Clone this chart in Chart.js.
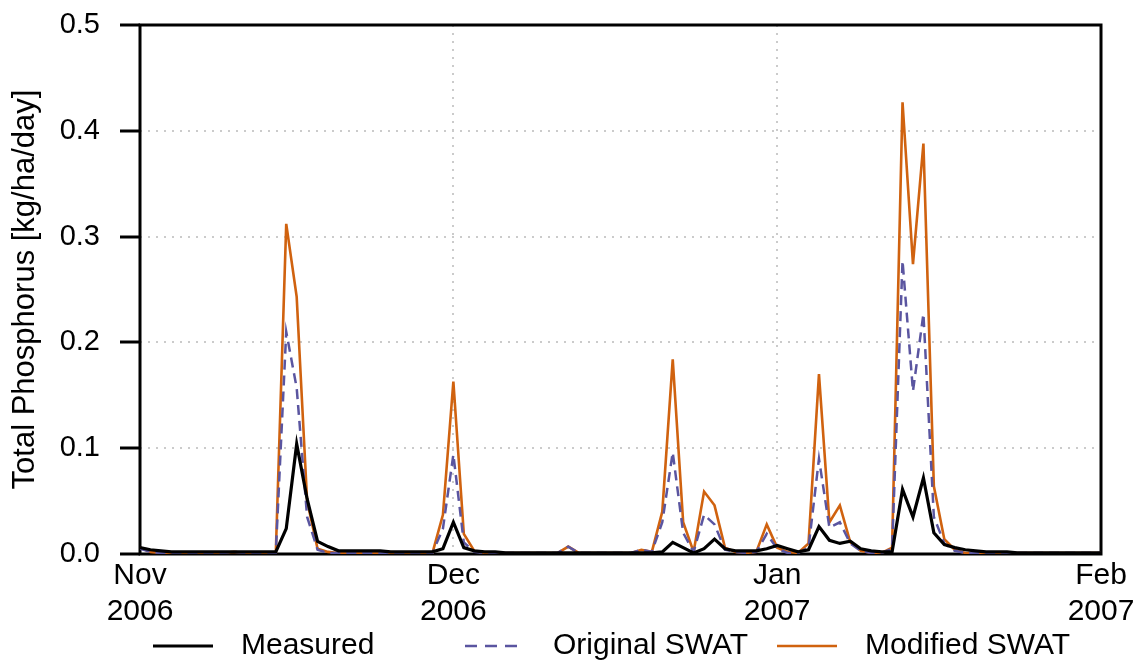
<!DOCTYPE html>
<html>
<head>
<meta charset="utf-8">
<style>
  html, body { margin: 0; padding: 0; background: #fff; }
  canvas { display: block; }
</style>
<script src="https://cdn.jsdelivr.net/npm/chart.js@4"></script>
</head>
<body>
<canvas id="tpChart" width="1139" height="661"></canvas>
<script>
// daily total phosphorus load, 1 Nov 2006 (day 0) to 1 Feb 2007 (day 92)
const measured = [
  0.006, 0.004, 0.003, 0.002, 0.002, 0.002, 0.002, 0.002, 0.002, 0.002,
  0.002, 0.002, 0.002, 0.002, 0.024, 0.104, 0.052, 0.012, 0.007, 0.003,
  0.003, 0.003, 0.003, 0.003, 0.002, 0.002, 0.002, 0.002, 0.002, 0.005,
  0.030, 0.006, 0.003, 0.002, 0.002, 0.001, 0.001, 0.001, 0.001, 0.001,
  0.001, 0.001, 0.001, 0.001, 0.001, 0.001, 0.001, 0.001, 0.001, 0.001,
  0.002, 0.011, 0.006, 0.001, 0.005, 0.014, 0.005, 0.003, 0.003, 0.003,
  0.005, 0.008, 0.005, 0.002, 0.004, 0.026, 0.013, 0.010, 0.012, 0.005,
  0.003, 0.002, 0.002, 0.061, 0.035, 0.072, 0.020, 0.009, 0.006, 0.004,
  0.003, 0.002, 0.002, 0.002, 0.001, 0.001, 0.001, 0.001, 0.001, 0.001,
  0.001, 0.001, 0.001
];
const originalSwat = [
  0.005, 0.002, 0.001, 0.001, 0.001, 0.001, 0.001, 0.001, 0.001, 0.002,
  0.001, 0.001, 0.001, 0.001, 0.210, 0.157, 0.035, 0.004, 0.001, 0.001,
  0.001, 0.001, 0.001, 0.001, 0.001, 0.001, 0.001, 0.001, 0.001, 0.024,
  0.094, 0.011, 0.002, 0.001, 0.001, 0.001, 0.001, 0.001, 0.001, 0.001,
  0.001, 0.007, 0.001, 0.001, 0.001, 0.001, 0.001, 0.001, 0.004, 0.002,
  0.030, 0.096, 0.020, 0.002, 0.037, 0.028, 0.004, 0.002, 0.001, 0.002,
  0.019, 0.005, 0.001, 0.001, 0.006, 0.090, 0.025, 0.030, 0.010, 0.003,
  0.001, 0.001, 0.005, 0.277, 0.154, 0.227, 0.035, 0.010, 0.003, 0.001,
  0.001, 0.001, 0.001, 0.001, 0.001, 0.001, 0.001, 0.001, 0.001, 0.001,
  0.001, 0.001, 0.001
];
const modifiedSwat = [
  0.006, 0.002, 0.001, 0.001, 0.001, 0.001, 0.001, 0.001, 0.001, 0.002,
  0.001, 0.001, 0.001, 0.001, 0.312, 0.243, 0.050, 0.005, 0.002, 0.001,
  0.001, 0.001, 0.001, 0.001, 0.001, 0.001, 0.001, 0.001, 0.001, 0.037,
  0.163, 0.019, 0.003, 0.001, 0.001, 0.001, 0.001, 0.001, 0.001, 0.001,
  0.001, 0.007, 0.001, 0.001, 0.001, 0.001, 0.001, 0.001, 0.004, 0.002,
  0.040, 0.184, 0.030, 0.002, 0.059, 0.046, 0.006, 0.002, 0.001, 0.002,
  0.028, 0.006, 0.002, 0.001, 0.010, 0.170, 0.030, 0.046, 0.011, 0.003,
  0.001, 0.001, 0.006, 0.427, 0.274, 0.388, 0.064, 0.014, 0.004, 0.001,
  0.001, 0.001, 0.001, 0.001, 0.001, 0.001, 0.001, 0.001, 0.001, 0.001,
  0.001, 0.001, 0.001
];

// month boundaries (days since 1 Nov 2006) and their labels
const monthDays = [0, 30, 61, 92];
const monthLabels = [['Nov', '2006'], ['Dec', '2006'], ['Jan', '2007'], ['Feb', '2007']];
const yTicks = [0, 0.1, 0.2, 0.3, 0.4, 0.5];

const FONT = 'Liberation Sans, Arial, sans-serif';

const toPoints = arr => arr.map((v, i) => ({ x: i, y: v }));

// black frame around the plot, drawn under the lines
const framePlugin = {
  id: 'frame',
  beforeDatasetsDraw(chart) {
    const { ctx, chartArea: a } = chart;
    ctx.save();
    ctx.strokeStyle = '#000';
    ctx.lineWidth = 3;
    ctx.strokeRect(a.left, a.top, a.right - a.left, a.bottom - a.top);
    ctx.restore();
  }
};

// legend row along the bottom, one column per series
const legendPlugin = {
  id: 'bottomLegend',
  afterDraw(chart) {
    const ctx = chart.ctx;
    const y = 646;
    const startX = 153;
    const colWidth = 312;
    ctx.save();
    ctx.font = '30px ' + FONT;
    ctx.textBaseline = 'middle';
    ctx.fillStyle = '#000';
    chart.data.datasets.forEach((ds, i) => {
      const x = startX + i * colWidth;
      ctx.beginPath();
      ctx.strokeStyle = ds.borderColor;
      ctx.lineWidth = ds.borderWidth;
      ctx.setLineDash(ds.borderDash ? [12, 8] : []);
      ctx.moveTo(x, y);
      ctx.lineTo(x + 60, y);
      ctx.stroke();
      ctx.setLineDash([]);
      ctx.fillText(ds.label, x + 88, y);
    });
    ctx.restore();
  }
};

new Chart(document.getElementById('tpChart'), {
  type: 'line',
  data: {
    datasets: [
      {
        label: 'Measured',
        data: toPoints(measured),
        borderColor: '#000000',
        borderWidth: 3.2,
        pointRadius: 0,
        tension: 0
      },
      {
        label: 'Original SWAT',
        data: toPoints(originalSwat),
        borderColor: '#5a55a0',
        borderWidth: 2.5,
        borderDash: [10, 6],
        pointRadius: 0,
        tension: 0
      },
      {
        label: 'Modified SWAT',
        data: toPoints(modifiedSwat),
        borderColor: '#d0620f',
        borderWidth: 2.6,
        pointRadius: 0,
        tension: 0
      }
    ]
  },
  options: {
    responsive: false,
    animation: false,
    layout: { padding: { left: 0, top: 25, right: 38, bottom: 0 } },
    plugins: {
      legend: { display: false },
      tooltip: { enabled: false }
    },
    scales: {
      x: {
        type: 'linear',
        min: 0,
        max: 92,
        afterBuildTicks: scale => {
          scale.ticks = monthDays.map(v => ({ value: v }));
        },
        afterFit: scale => {
          scale.height = 107;
          scale.paddingLeft = 0;
          scale.paddingRight = 0;
        },
        ticks: {
          autoSkip: false,
          maxRotation: 0,
          padding: 4,
          color: '#000',
          font: { family: FONT, size: 30, lineHeight: 1.2 },
          callback: value => monthLabels[monthDays.indexOf(value)]
        },
        grid: {
          drawTicks: false,
          lineWidth: 2,
          color: ctx => (ctx.tick && (ctx.tick.value === 30 || ctx.tick.value === 61)) ? '#cbcbcb' : 'rgba(0,0,0,0)'
        },
        border: { display: false, dash: [2, 6] }
      },
      y: {
        min: 0,
        max: 0.5,
        afterBuildTicks: scale => {
          scale.ticks = yTicks.map(v => ({ value: v }));
        },
        afterFit: scale => {
          scale.width = 140;
          scale.paddingTop = 0;
          scale.paddingBottom = 0;
        },
        ticks: {
          padding: 20,
          color: '#000',
          font: { family: FONT, size: 29 },
          callback: value => value.toFixed(1)
        },
        grid: {
          lineWidth: 2,
          color: '#cbcbcb',
          tickLength: 20,
          tickWidth: 3,
          tickColor: '#000'
        },
        border: { display: false, dash: [2, 6] },
        title: {
          display: true,
          text: 'Total Phosphorus [kg/ha/day]',
          color: '#000',
          font: { family: FONT, size: 31 },
          padding: { top: 7, bottom: 0 }
        }
      }
    }
  },
  plugins: [framePlugin, legendPlugin]
});
</script>
</body>
</html>
